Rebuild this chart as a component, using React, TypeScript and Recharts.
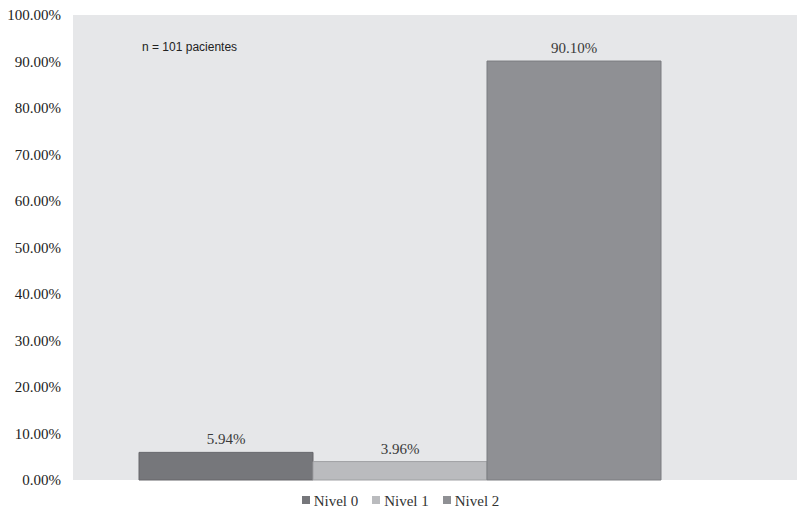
import { BarChart, Bar, XAxis, YAxis, CartesianGrid, Legend, LabelList } from 'recharts';

// one category, three levels
const categories = [''];
const levelNames = ['Nivel 0', 'Nivel 1', 'Nivel 2'];
const levelValues = [5.94, 3.96, 90.1];
const yTicks = [0, 10, 20, 30, 40, 50, 60, 70, 80, 90, 100];

const fills = ['#76777b', '#babbbe', '#8f9094'];
const strokes = ['#66676b', '#9fa0a3', '#7b7c80'];

const data = categories.map(name => {
    const row: Record<string, string | number> = { name };
    levelNames.forEach((lvl, i) => { row[lvl] = levelValues[i]; });
    return row;
});

const serif = '"Liberation Serif", "Times New Roman", serif';
const pct = (v: number) => `${Number(v).toFixed(2)}%`;

function LegendBox({ payload }: any) {
    return (
        <div
            style={{
                display: 'flex',
                justifyContent: 'center',
                alignItems: 'flex-start',
                height: 30,
                boxSizing: 'border-box',
                paddingTop: 14,
                paddingLeft: 4,
                lineHeight: '15px',
                fontFamily: serif,
                fontSize: 15,
                color: '#333',
            }}
        >
            {(payload || []).map((p: any, i: number) => (
                <div key={p.value} style={{ display: 'flex', alignItems: 'center', marginLeft: i ? 14 : 0 }}>
                    <span style={{ display: 'inline-block', width: 8, height: 8, background: p.color, marginRight: 4, marginTop: -3 }} />
                    <span>{p.value}</span>
                </div>
            ))}
        </div>
    );
}

export default function App() {
    return (
        <div style={{ position: 'absolute', left: 0, top: 0, width: 799, height: 510, background: '#fff' }}>
            <BarChart
                width={799}
                height={510}
                data={data}
                margin={{ top: 15, right: 2, left: 0, bottom: 0 }}
                barCategoryGap={0}
                barGap={0}
            >
                <CartesianGrid horizontal={false} vertical={false} fill="#e6e7e9" />
                <XAxis dataKey="name" hide padding={{ left: 66, right: 136 }} />
                <YAxis
                    domain={[0, 100]}
                    ticks={yTicks}
                    width={73}
                    axisLine={false}
                    tickLine={false}
                    tickMargin={6}
                    tickFormatter={pct}
                    tick={{ fill: '#222', fontSize: 15, fontFamily: serif }}
                    interval={0}
                />
                <Legend verticalAlign="bottom" height={30} content={<LegendBox />} />
                {levelNames.map((lvl, i) => (
                    <Bar
                        key={lvl}
                        dataKey={lvl}
                        fill={fills[i]}
                        stroke={strokes[i]}
                        strokeWidth={1}
                        isAnimationActive={false}
                    >
                        <LabelList
                            dataKey={lvl}
                            position="top"
                            offset={8}
                            formatter={pct}
                            style={{ fill: '#3a3a3a', fontSize: 15, fontFamily: serif }}
                        />
                    </Bar>
                ))}
            </BarChart>
            <div
                style={{
                    position: 'absolute',
                    left: 142,
                    top: 40,
                    fontFamily: '"Liberation Sans", Arial, sans-serif',
                    fontSize: 12,
                    color: '#222',
                }}
            >
                n = 101 pacientes
            </div>
        </div>
    );
}
